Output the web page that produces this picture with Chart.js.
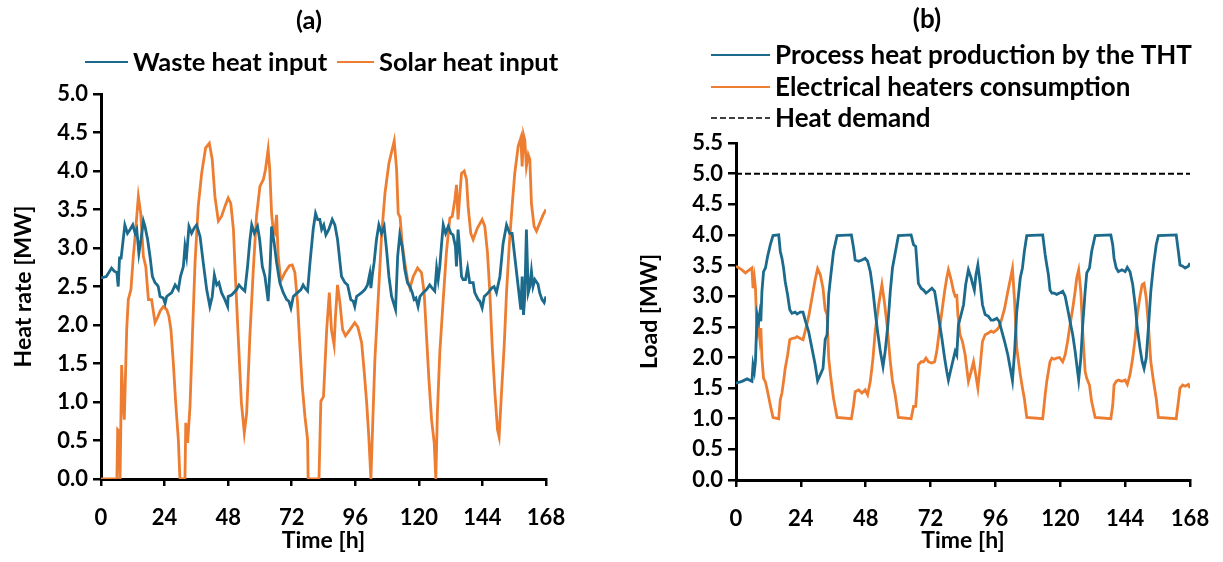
<!DOCTYPE html>
<html>
<head>
<meta charset="utf-8">
<script src="https://cdn.jsdelivr.net/npm/chart.js@4.4.1/dist/chart.umd.min.js"></script>
<style>
  html, body { margin: 0; padding: 0; background: #fff; }
  #wrap { position: relative; width: 1223px; height: 562px; }
  canvas { position: absolute; top: 0; }
  #chartA { left: 0; }
  #chartB { left: 612px; }
</style>
</head>
<body>
<div id="wrap">
  <canvas id="chartA" width="612" height="562"></canvas>
  <canvas id="chartB" width="611" height="562"></canvas>
</div>
<script>
const FONT = 'Lato, "Open Sans", sans-serif';
const BLUE = '#1c6a8c';
const ORANGE = '#ed7d31';

// time axis [h]
const hourTicks = [0, 24, 48, 72, 96, 120, 144, 168];

// (a) heat inputs, [hour, MW]
const wasteHeat = [
  [0,2.61],[2,2.63],[4,2.74],[5,2.70],[6,2.68],[6.5,2.50],[7,2.87],[7.6,2.87],[9,3.30],[10,3.19],
  [11,3.24],[12,3.30],[12.9,3.19],[13.5,3.24],[14.3,2.93],[15.1,3.11],[16,3.35],[16.6,3.28],[17.6,3.11],
  [18.5,2.89],[19.4,2.63],[20.4,2.55],[21,2.53],[21.6,2.50],[22.3,2.37],[23.5,2.35],[24.2,2.28],[24.8,2.37],
  [26.7,2.42],[28,2.52],[29.2,2.46],[30,2.63],[31.1,2.76],[31.7,3.02],[32.3,2.89],[33.2,3.28],[34.2,3.19],
  [35.2,3.26],[36.1,3.30],[37.4,3.15],[38.6,2.81],[39.9,2.46],[41.1,2.24],[42,2.37],[42.8,2.65],[43.7,2.52],
  [44.5,2.55],[45.5,2.42],[46.5,2.35],[47.8,2.24],[48,2.37],[49.3,2.39],[51.2,2.46],[52.1,2.52],[53.1,2.48],
  [54.3,2.44],[55.3,2.75],[56.2,3.10],[56.9,3.30],[57.9,3.19],[59.1,3.28],[59.9,3.11],[60.9,2.76],[61.9,2.63],
  [63.1,2.31],[63.8,2.72],[64.4,3.28],[65.4,3.06],[66.3,2.81],[67.5,2.55],[68.8,2.42],[70.1,2.33],[70.9,2.31],
  [71.7,2.22],[72.6,2.37],[74.2,2.42],[75.5,2.46],[76.3,2.52],[77,2.48],[78,2.44],[78.9,2.81],[80.1,3.24],
  [81,3.45],[81.8,3.37],[82.6,3.37],[83.3,3.24],[84.1,3.30],[84.9,3.17],[86,3.24],[87.3,3.37],[88.3,3.30],
  [89.3,3.11],[90.8,2.63],[92.1,2.55],[93.1,2.52],[94.3,2.33],[95.2,2.31],[95.8,2.24],[96.5,2.37],[98.4,2.42],
  [99.6,2.46],[100.6,2.52],[101.5,2.67],[101.9,2.48],[102.5,2.67],[103.1,2.81],[104,3.11],[104.9,3.30],
  [105.9,3.19],[106.9,3.28],[107.8,2.98],[108.7,2.63],[109.7,2.37],[111.2,2.20],[112,2.89],[112.8,3.17],
  [113.7,3.02],[114.7,2.72],[115.7,2.55],[116.6,2.50],[117.5,2.42],[118.2,2.33],[118.9,2.35],[119.7,2.24],
  [120.4,2.37],[121.6,2.42],[122.9,2.46],[124.1,2.52],[125,2.48],[126,2.44],[126.7,2.74],[127.3,2.59],
  [127.9,2.76],[128.5,3.02],[129.2,3.30],[130.1,3.19],[131.1,3.28],[132.1,3.19],[132.9,3.17],[133.8,3.02],
  [134.2,2.76],[134.8,3.24],[135.5,2.94],[136.1,2.63],[136.7,2.59],[137.6,2.59],[138.4,2.74],[139.2,2.55],
  [140.5,2.55],[141.1,2.42],[142.4,2.33],[143,2.31],[143.9,2.22],[144.7,2.37],[146.2,2.42],[147.5,2.48],
  [148.4,2.50],[149.3,2.42],[150.6,2.63],[151.8,3.06],[153.1,3.30],[154.3,3.19],[155.2,3.19],[156.2,2.89],
  [157.5,2.50],[158.5,2.20],[159,2.63],[159.5,2.13],[160,2.37],[160.6,3.24],[161.3,2.42],[161.9,2.50],
  [162.5,2.70],[163.1,2.50],[163.8,2.59],[165,2.53],[165.6,2.42],[166.5,2.33],[167.3,2.29],[168,2.37]
];

const solarHeat = [
  [0,0],[6,0],[6.3,0.64],[6.8,0.62],[7.2,0],[7.4,0],[7.8,1.48],[8.3,1.0],[8.8,0.77],[9.7,1.94],[10.3,2.33],
  [11.3,2.46],[12.2,2.89],[13.1,3.24],[14.1,3.67],[15,3.45],[16,2.89],[16.9,2.76],[17.9,2.33],[19.1,2.33],
  [20.4,2.03],[21.4,2.10],[22.3,2.18],[23.5,2.24],[24.8,2.20],[25.6,2.12],[26.4,1.94],[27.3,1.51],[28.2,0.99],
  [29.2,0.51],[29.8,0],[31.7,0],[32,0.73],[32.7,0.47],[33.6,0.94],[34.5,1.85],[35.5,2.81],[36.7,3.54],[38,3.97],
  [39.5,4.30],[40.9,4.36],[42,4.15],[43,3.67],[44.3,3.35],[45.5,3.41],[47,3.56],[48,3.65],[49,3.58],[50,3.24],
  [50.8,2.59],[51.8,1.85],[53,0.99],[54.1,0.60],[55,0.86],[55.8,1.51],[56.2,1.85],[57.5,2.72],[58.7,3.41],
  [60,3.80],[61.3,3.89],[62.1,4.02],[63.1,4.28],[63.7,4.02],[64.4,3.45],[65,3.24],[65.6,3.20],[66.3,3.43],
  [66.9,2.89],[67.9,2.57],[69.4,2.68],[71.1,2.77],[72.2,2.78],[73.2,2.68],[74.2,2.29],[75.1,1.72],[76,1.20],
  [77,0.81],[78,0.51],[78.2,0],[82.3,0],[83,1.01],[84,1.07],[85.2,1.94],[86.2,2.42],[87,1.94],[88,1.74],
  [88.5,2.10],[89.3,2.52],[90.2,2.29],[91.2,1.94],[92.3,1.86],[94,1.94],[95.8,2.03],[97,1.97],[98.4,1.77],
  [99.4,1.38],[100.3,0.99],[101.1,0.55],[101.9,0],[102.5,0.64],[103.4,1.55],[104.7,2.37],[105.9,3.15],
  [107.2,3.71],[108.7,4.10],[110.7,4.39],[111.6,4.02],[112.2,3.45],[112.9,3.40],[113.7,3.06],[114.7,2.81],
  [115.7,2.59],[116.6,2.48],[117.9,2.63],[119.5,2.74],[121,2.68],[122,2.42],[122.9,1.85],[123.8,1.29],
  [124.8,0.77],[125.8,0.47],[126.4,0],[127,0.86],[127.9,1.64],[129.2,2.33],[130.4,2.94],[131.7,3.39],
  [132.6,3.41],[133.6,3.63],[134.2,3.82],[134.8,3.37],[135.5,3.71],[136.1,3.97],[137.1,4.00],[138,3.89],
  [138.6,3.54],[139.6,3.19],[140.5,3.11],[142.1,3.26],[143.9,3.37],[144.9,3.28],[145.9,2.94],[146.8,2.42],
  [147.7,1.72],[148.7,1.12],[149.7,0.64],[150.3,0.55],[151.2,1.12],[152.2,1.72],[153.1,2.42],[154.1,3.02],
  [155.2,3.54],[156.2,3.97],[157.5,4.32],[158.5,4.43],[159,4.06],[159.5,4.47],[160,4.40],[160.6,4.06],
  [161.3,4.21],[161.9,4.15],[162.5,3.58],[163.5,3.28],[164.4,3.22],[165.6,3.32],[166.9,3.43],[168,3.50]
];

// (b) loads, [hour, MW]
const thtHeat = [
  [0,1.58],[2.2,1.61],[4.1,1.65],[5.9,1.61],[6.3,1.88],[6.8,1.77],[7.2,1.94],[7.8,2.70],[8.4,2.59],[8.8,2.72],
  [9.2,2.59],[9.6,3.08],[10.2,3.40],[10.9,3.46],[11.7,3.65],[12.7,3.84],[13.7,3.99],[15.8,4.0],[16.4,3.73],
  [17,3.62],[17.6,3.46],[18.2,3.24],[19.1,3.02],[19.9,2.78],[20.7,2.72],[21.9,2.74],[22.6,2.71],[23.8,2.74],
  [24.8,2.74],[25.6,2.61],[26.9,2.42],[28.1,2.15],[29.3,1.88],[30.2,1.62],[31.2,1.72],[32.2,1.82],[33,2.29],
  [33.7,2.37],[34.3,3.02],[35.1,3.35],[36.1,3.73],[37.4,3.99],[42.7,4.0],[43.5,3.79],[44.1,3.59],[45.4,3.57],
  [46.6,3.59],[47.8,3.62],[48.7,3.57],[49.7,3.40],[50.7,3.08],[51.5,2.75],[52.4,2.42],[53.4,2.10],[54.4,1.85],
  [55.2,2.10],[56.2,2.53],[57.1,3.08],[57.9,3.46],[58.9,3.70],[60.1,3.99],[64.8,4.0],[65.7,3.84],[66.5,3.81],
  [66.9,3.57],[67.5,3.21],[68.5,3.13],[69.4,3.10],[70.3,3.05],[71.2,3.08],[72.5,3.13],[73.5,3.08],[74.3,2.86],
  [75.2,2.59],[76.2,2.31],[77.2,1.99],[78,1.77],[78.6,1.63],[79.6,1.82],[80.5,1.99],[81.1,2.10],[81.7,2.04],
  [82.3,2.53],[83.3,2.70],[84.2,2.86],[85,3.19],[86,3.43],[87,3.30],[87.5,3.21],[88.2,3.10],[88.8,3.35],
  [89.5,3.51],[90.4,3.19],[91.2,2.86],[92.2,2.70],[93.4,2.67],[94.4,2.61],[95.3,2.61],[96.5,2.64],[97.4,2.59],
  [98.4,2.42],[99.4,2.26],[100.6,2.04],[101.5,1.82],[102.3,1.62],[103.1,2.10],[103.9,2.75],[105.2,3.30],
  [106,3.46],[106.7,3.73],[107.6,3.99],[113.5,4.0],[114.4,3.68],[115,3.51],[115.6,3.35],[116.2,3.10],
  [116.9,3.05],[117.7,3.05],[118.7,3.03],[119.7,3.05],[120.9,3.08],[121.8,3.00],[122.7,2.80],[123.6,2.59],
  [124.6,2.37],[125.5,2.10],[126.1,1.88],[126.8,1.63],[127.6,1.99],[128.3,2.53],[129.2,3.08],[129.8,3.38],
  [130.8,3.46],[131.6,3.73],[132.9,3.99],[138.7,4.0],[139.4,3.84],[139.9,3.62],[140.7,3.46],[141.5,3.40],
  [142.8,3.43],[144,3.40],[144.8,3.47],[145.8,3.40],[146.8,3.19],[147.7,2.86],[148.5,2.48],[149.5,2.15],
  [150.3,1.93],[151,1.82],[151.8,1.99],[152.6,2.48],[153.5,3.08],[154.5,3.51],[155.5,3.84],[156.3,3.99],
  [162.9,4.0],[163.7,3.73],[164.3,3.51],[165.3,3.49],[166.2,3.46],[167.4,3.49],[168,3.54]
];

const heaterLoad = [
  [0,3.49],[2.2,3.43],[3.5,3.38],[4.7,3.42],[5.9,3.46],[6.3,3.13],[6.8,3.30],[7.2,3.13],[7.8,2.37],[8.4,2.48],
  [8.8,2.31],[9.2,2.48],[9.6,1.99],[10.2,1.66],[10.9,1.60],[11.7,1.44],[12.7,1.22],[13.7,1.02],[15.8,1.0],
  [16.4,1.31],[17,1.42],[17.6,1.61],[18.2,1.82],[19.1,2.04],[19.9,2.29],[20.7,2.31],[21.9,2.32],[22.6,2.34],
  [23.8,2.31],[24.8,2.29],[25.6,2.43],[26.9,2.67],[28.1,2.97],[29.3,3.27],[30.2,3.45],[31.2,3.35],[32.2,3.13],
  [33,2.78],[33.7,2.70],[34.3,1.99],[35.1,1.66],[36.1,1.33],[37.4,1.02],[42.7,1.0],[43.5,1.22],[44.1,1.44],
  [45.4,1.47],[46.6,1.42],[47.8,1.47],[48.7,1.39],[49.7,1.61],[50.7,1.99],[51.5,2.42],[52.8,2.86],[54,3.19],
  [54.9,2.91],[55.9,2.53],[57.1,1.93],[57.9,1.61],[58.9,1.39],[60.1,1.02],[64.8,1.0],[65.7,1.20],[66.5,1.20],
  [66.9,1.44],[67.5,1.88],[68.5,1.93],[69.4,1.93],[70.3,1.99],[71.2,1.93],[72.5,1.91],[73.5,1.93],[74.3,2.10],
  [75.2,2.42],[76.2,2.75],[77.2,3.08],[78,3.30],[78.6,3.43],[79.6,3.27],[80.5,3.08],[81.1,3.00],[81.7,3.01],
  [82.1,2.70],[82.9,2.37],[83.8,2.26],[84.8,2.04],[85.4,1.82],[86,1.61],[87,1.77],[87.9,1.93],[88.7,1.72],
  [89.5,1.50],[90.4,1.88],[91.2,2.26],[92.2,2.37],[93.4,2.40],[94.4,2.43],[95.3,2.41],[96.5,2.45],[97.4,2.50],
  [98.4,2.64],[99.4,2.80],[100.6,3.08],[101.5,3.27],[102.3,3.45],[103.1,2.91],[103.9,2.15],[105.2,1.72],
  [106,1.50],[106.7,1.33],[107.6,1.02],[113.5,1.0],[114.4,1.39],[115,1.61],[115.6,1.77],[116.2,1.93],
  [116.9,1.99],[117.7,1.97],[118.7,1.99],[119.7,2.00],[120.9,1.93],[121.8,2.04],[122.7,2.26],[123.6,2.53],
  [124.6,2.80],[125.5,3.08],[126.1,3.30],[126.8,3.43],[127.6,3.08],[128.3,2.42],[129.2,1.77],[129.8,1.66],
  [130.8,1.55],[131.6,1.28],[132.9,1.02],[138.7,1.0],[139.4,1.22],[139.9,1.55],[140.7,1.61],[141.5,1.63],
  [142.8,1.61],[144,1.63],[144.8,1.56],[145.8,1.72],[146.8,1.99],[147.7,2.31],[148.5,2.70],[149.5,3.00],
  [150.3,3.19],[151,3.21],[151.8,2.97],[152.6,2.53],[153.5,1.93],[154.5,1.61],[155.5,1.33],[156.3,1.02],
  [162.9,1.0],[163.7,1.28],[164.3,1.50],[165.3,1.55],[166.2,1.53],[167.4,1.56],[168,1.50]
];

const heatDemand = [[0,5.0],[168,5.0]];

const toPoints = arr => arr.map(([x, y]) => ({ x, y }));

// panel letter + legend drawn in the top margin
const panelHeader = {
  id: 'panelHeader',
  afterDraw(chart, args, opts) {
    const ctx = chart.ctx;
    ctx.save();
    ctx.fillStyle = '#000';
    ctx.textBaseline = 'middle';
    ctx.font = `bold ${opts.fontSize}px ${FONT}`;
    ctx.textAlign = 'center';
    ctx.fillText(opts.title, opts.titleX, opts.titleY);
    ctx.textAlign = 'left';
    opts.items.forEach(item => {
      const ds = chart.data.datasets[item.dataset];
      ctx.strokeStyle = ds.borderColor;
      ctx.lineWidth = ds.borderDash ? 1.6 : 2;
      ctx.setLineDash(ds.borderDash || []);
      ctx.beginPath();
      ctx.moveTo(item.x0, item.y);
      ctx.lineTo(item.x1, item.y);
      ctx.stroke();
      ctx.fillText(ds.label, item.x1 + 5, item.y + 1);
    });
    ctx.restore();
  }
};

function axisFont(size) {
  return { family: FONT, size: size, weight: 'bold' };
}

function makeOptions(cfg) {
  return {
    responsive: false,
    animation: false,
    layout: { padding: { top: cfg.top, right: cfg.right, bottom: 0, left: 0 } },
    plugins: {
      legend: { display: false },
      tooltip: { enabled: false },
      panelHeader: cfg.header
    },
    elements: { point: { radius: 0 }, line: { tension: 0, borderWidth: 2.8 } },
    scales: {
      x: {
        type: 'linear',
        min: 0,
        max: 168,
        afterFit: s => { s.height = cfg.xHeight; s.paddingLeft = 0; s.paddingRight = 0; },
        afterBuildTicks: s => { s.ticks = hourTicks.map(v => ({ value: v })); },
        ticks: { color: '#000', font: axisFont(22), padding: 19, maxRotation: 0 },
        grid: { drawOnChartArea: false, drawTicks: true, tickLength: 7, color: '#000', lineWidth: 2.5 },
        border: { display: true, color: '#000', width: 3 },
        title: { display: true, text: 'Time [h]', color: '#000', font: axisFont(23), padding: { top: 0, bottom: 8 } }
      },
      y: {
        min: 0,
        max: cfg.yMax,
        afterFit: s => { s.width = cfg.yWidth; },
        ticks: { stepSize: 0.5, color: '#000', font: axisFont(22), padding: 5, callback: v => v.toFixed(1) },
        grid: { drawOnChartArea: false, drawTicks: true, tickLength: 8, color: '#000', lineWidth: 2.5 },
        border: { display: true, color: '#000', width: 3 },
        title: { display: true, text: cfg.yTitle, color: '#000', font: axisFont(23), padding: { top: cfg.yTitlePad, bottom: 0 } }
      }
    }
  };
}

new Chart(document.getElementById('chartA'), {
  type: 'line',
  data: {
    datasets: [
      { label: 'Waste heat input', data: toPoints(wasteHeat), borderColor: BLUE },
      { label: 'Solar heat input', data: toPoints(solarHeat), borderColor: ORANGE }
    ]
  },
  options: makeOptions({
    top: 94, right: 66, xHeight: 83, yWidth: 101, yMax: 5, yTitle: 'Heat rate [MW]', yTitlePad: 10,
    header: {
      title: '(a)', titleX: 309, titleY: 21, fontSize: 25.5,
      items: [
        { dataset: 0, x0: 85, x1: 128, y: 62 },
        { dataset: 1, x0: 337, x1: 374, y: 62 }
      ]
    }
  }),
  plugins: [panelHeader]
});

new Chart(document.getElementById('chartB'), {
  type: 'line',
  data: {
    datasets: [
      { label: 'Process heat production by the THT', data: toPoints(thtHeat), borderColor: BLUE },
      { label: 'Electrical heaters consumption', data: toPoints(heaterLoad), borderColor: ORANGE },
      { label: 'Heat demand', data: toPoints(heatDemand), borderColor: '#000', borderWidth: 2, borderDash: [6, 3] }
    ]
  },
  options: makeOptions({
    top: 143, right: 33, xHeight: 82, yWidth: 124, yMax: 5.5, yTitle: 'Load [MW]', yTitlePad: 24,
    header: {
      title: '(b)', titleX: 315, titleY: 20, fontSize: 26,
      items: [
        { dataset: 0, x0: 99, x1: 158, y: 55 },
        { dataset: 1, x0: 99, x1: 158, y: 87 },
        { dataset: 2, x0: 99, x1: 158, y: 118 }
      ]
    }
  }),
  plugins: [panelHeader]
});
</script>
</body>
</html>
